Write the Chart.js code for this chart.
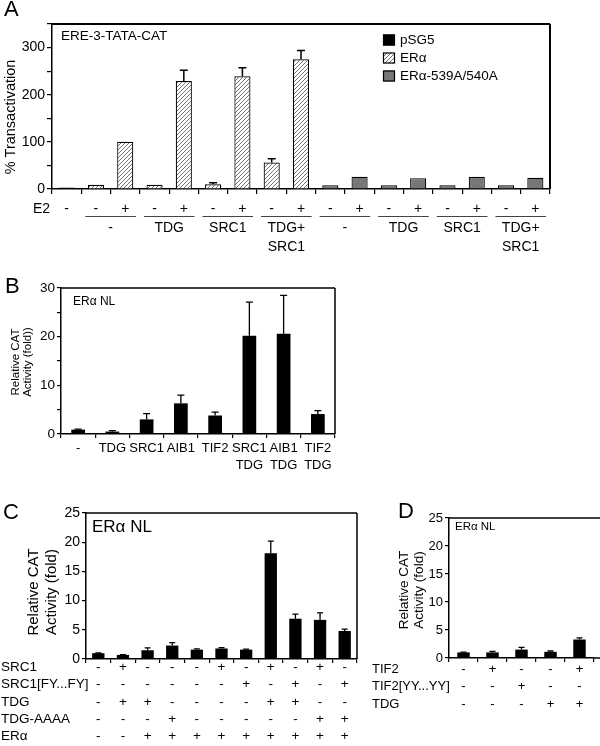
<!DOCTYPE html>
<html>
<head>
<meta charset="utf-8">
<script src="https://cdn.jsdelivr.net/npm/chart.js@4.4.1/dist/chart.umd.min.js"></script>
<style>
  html, body { margin: 0; padding: 0; background: #fff; }
  #page { position: relative; width: 600px; height: 746px; overflow: hidden; }
  canvas { position: absolute; }
</style>
</head>
<body>
<div id="page">
  <canvas id="panelA" width="600" height="262" style="left:0;top:0"></canvas>
  <canvas id="panelB" width="345" height="210" style="left:0;top:262px"></canvas>
  <canvas id="panelC" width="368" height="274" style="left:0;top:472px"></canvas>
  <canvas id="panelD" width="232" height="274" style="left:368px;top:472px"></canvas>
</div>
<script>
const FONT = "'Liberation Sans', Arial, Helvetica, sans-serif";
Chart.defaults.font.family = FONT;
Chart.defaults.color = '#000';

// panel A: ERE-3-TATA-CAT, % transactivation
const aE2 = ['-', '-', '+', '-', '+', '-', '+', '-', '+', '-', '+', '-', '+', '-', '+', '-', '+'];
const aGroups = [['-'], ['TDG'], ['SRC1'], ['TDG+', 'SRC1'], ['-'], ['TDG'], ['SRC1'], ['TDG+', 'SRC1']];
const aSeries = ['pSG5', 'ERα', 'ERα-539A/540A'];
const aPSG5 = [3];
const aERa = [9, 100, 9, 229, 10, 239, 56, 275];
const aERaErr = [0, 0, 0, 23, 3, 18, 8, 19];
const aMut = [8, 26, 8, 23, 8, 26, 8, 24];

// panel B: relative CAT activity, ERα NL
const bLabels = [['-'], ['TDG'], ['SRC1'], ['AIB1'], ['TIF2'], ['SRC1', 'TDG'], ['AIB1', 'TDG'], ['TIF2', 'TDG']];
const bValues = [0.9, 0.5, 3.0, 6.3, 3.8, 20.2, 20.6, 4.1];
const bErrors = [0.1, 0.2, 1.2, 1.7, 0.7, 6.9, 7.9, 0.7];

// panel C
const cRows = ['SRC1', 'SRC1[FY...FY]', 'TDG', 'TDG-AAAA', 'ERα'];
const cSRC1 = ['-', '+', '-', '-', '-', '+', '-', '+', '-', '+', '-'];
const cSRC1FY = ['-', '-', '-', '-', '-', '-', '+', '-', '+', '-', '+'];
const cTDG = ['-', '+', '+', '-', '-', '-', '-', '+', '+', '-', '-'];
const cTDGAAAA = ['-', '-', '-', '+', '-', '-', '-', '-', '-', '+', '+'];
const cERa = ['-', '-', '+', '+', '+', '+', '+', '+', '+', '+', '+'];
const cValues = [1.0, 0.7, 1.5, 2.3, 1.6, 1.8, 1.6, 18.1, 6.9, 6.7, 4.8];
const cErrors = [0.05, 0.05, 0.4, 0.5, 0.15, 0.15, 0.1, 2.1, 0.8, 1.2, 0.3];

// panel D
const dRows = ['TIF2', 'TIF2[YY...YY]', 'TDG'];
const dTIF2 = ['-', '+', '-', '-', '+'];
const dTIF2YY = ['-', '-', '+', '-', '-'];
const dTDG = ['-', '-', '-', '+', '+'];
const dValues = [1.0, 1.0, 1.5, 1.1, 3.3];
const dErrors = [0.05, 0.2, 0.4, 0.15, 0.3];

const nulls = n => Array(n).fill(null);

function put(ctx, str, x, y, size, align) {
  ctx.save();
  ctx.font = size + 'px ' + FONT;
  ctx.fillStyle = '#000';
  ctx.textAlign = align || 'left';
  ctx.textBaseline = 'middle';
  ctx.fillText(str, x, y);
  ctx.restore();
}

function putV(ctx, lines, xs, y, size) {
  lines.forEach((t, i) => {
    ctx.save();
    ctx.translate(xs[i], y);
    ctx.rotate(-Math.PI / 2);
    put(ctx, t, 0, 0, size, 'center');
    ctx.restore();
  });
}

function hatch() {
  const c = document.createElement('canvas');
  c.width = 4; c.height = 4;
  const g = c.getContext('2d');
  g.fillStyle = '#fff';
  g.fillRect(0, 0, 4, 4);
  g.strokeStyle = '#707070';
  g.lineWidth = 1;
  g.beginPath();
  g.moveTo(0, 4); g.lineTo(4, 0);
  g.moveTo(-1, 1); g.lineTo(1, -1);
  g.moveTo(3, 5); g.lineTo(5, 3);
  g.stroke();
  return g.createPattern(c, 'repeat');
}

const errorBars = {
  id: 'errorBars',
  afterDatasetsDraw(chart, args, o) {
    const ctx = chart.ctx, y = chart.scales.y;
    chart.data.datasets.forEach((ds, i) => {
      if (!ds.errors) return;
      chart.getDatasetMeta(i).data.forEach((bar, j) => {
        const v = ds.data[j], e = ds.errors[j];
        if (v == null || !e) return;
        const top = y.getPixelForValue(v + e);
        ctx.save();
        ctx.strokeStyle = '#000';
        ctx.lineWidth = o.width;
        ctx.beginPath();
        ctx.moveTo(bar.x, bar.y);
        ctx.lineTo(bar.x, top);
        ctx.moveTo(bar.x - o.cap / 2, top);
        ctx.lineTo(bar.x + o.cap / 2, top);
        ctx.stroke();
        ctx.restore();
      });
    });
  }
};

const frame = {
  id: 'frame',
  afterDraw(chart, args, o) {
    const ctx = chart.ctx, a = chart.chartArea;
    const r = o.extend ? chart.width : a.right;
    ctx.save();
    ctx.strokeStyle = '#000';
    ctx.lineWidth = o.width;
    ctx.beginPath();
    ctx.moveTo(a.left, a.top);
    ctx.lineTo(r, a.top);
    if (o.right) {
      ctx.moveTo(a.right, a.top);
      ctx.lineTo(a.right, a.bottom);
    }
    if (o.extend) {
      ctx.moveTo(a.right, a.bottom);
      ctx.lineTo(chart.width, a.bottom);
    }
    ctx.stroke();
    ctx.restore();
  }
};

function yAxis(max, step, every, size, w, tl) {
  return {
    min: 0, max: max,
    afterFit: s => { s.width = w; },
    ticks: { stepSize: step, autoSkip: false, padding: 2, font: { size: size }, color: '#000',
      callback: v => (v % every === 0 ? v : '') },
    grid: { drawOnChartArea: false, tickLength: tl, color: '#000', lineWidth: 1.2 },
    border: { color: '#000', width: 1.5 }
  };
}

function xAxis(h, font, pad, tl) {
  return {
    offset: true,
    afterFit: s => { s.height = h; },
    ticks: { autoSkip: false, maxRotation: 0, padding: pad, font: font, color: '#000' },
    grid: { offset: true, drawOnChartArea: false, tickLength: tl, color: '#000', lineWidth: 1.2 },
    border: { color: '#000', width: 1.5 }
  };
}

function base(pad, extra) {
  return Object.assign({
    responsive: false,
    animation: false,
    events: [],
    layout: { padding: pad },
  }, extra);
}

// ---- A
new Chart(document.getElementById('panelA'), {
  type: 'bar',
  data: {
    labels: aE2,
    datasets: [
      { label: aSeries[0], data: aPSG5.concat(nulls(16)), backgroundColor: '#000', borderColor: '#000', borderWidth: 1 },
      { label: aSeries[1], data: nulls(1).concat(aERa, nulls(8)), errors: nulls(1).concat(aERaErr, nulls(8)),
        backgroundColor: hatch(), borderColor: '#000', borderWidth: 1.2 },
      { label: aSeries[2], data: nulls(9).concat(aMut), backgroundColor: '#777', borderColor: '#000', borderWidth: 1.2 }
    ]
  },
  options: base({ left: 0, top: 24, right: 50, bottom: 0 }, {
    datasets: { bar: { grouped: false, categoryPercentage: 1, barPercentage: 0.55 } },
    plugins: {
      legend: { display: false }, tooltip: { enabled: false },
      errorBars: { cap: 8, width: 1.5 },
      frame: { width: 2, right: true }
    },
    scales: { x: xAxis(73, { size: 14 }, 6.6, 5), y: yAxis(350, 50, 100, 14, 52, 5) }
  }),
  plugins: [errorBars, frame, {
    id: 'notesA',
    afterDraw(chart) {
      const ctx = chart.ctx, x = chart.scales.x;
      put(ctx, 'A', 4, 10, 22);
      put(ctx, 'ERE-3-TATA-CAT', 61, 36, 13.5);
      putV(ctx, ['% Transactivation'], [11], 117, 14.5);
      put(ctx, 'E2', 33, 209, 14);
      const half = (x.getPixelForValue(1) - x.getPixelForValue(0)) / 2;
      aGroups.forEach((g, k) => {
        const l = x.getPixelForValue(1 + 2 * k) - half + 4;
        const r = x.getPixelForValue(2 + 2 * k) + half - 4;
        ctx.save();
        ctx.strokeStyle = '#444';
        ctx.lineWidth = 1;
        ctx.beginPath();
        ctx.moveTo(l, 216.5);
        ctx.lineTo(r, 216.5);
        ctx.stroke();
        ctx.restore();
        g.forEach((t, j) => put(ctx, t, (l + r) / 2, 228.5 + j * 19, 14, 'center'));
      });
      chart.data.datasets.forEach((ds, i) => {
        const y = 40 + i * 18;
        ctx.save();
        ctx.fillStyle = ds.backgroundColor;
        ctx.fillRect(383, y - 5.5, 12, 11);
        ctx.strokeStyle = '#000';
        ctx.lineWidth = 1.2;
        ctx.strokeRect(383.5, y - 5, 11, 10);
        ctx.restore();
        put(ctx, ds.label, 400, y, 13.5);
      });
    }
  }]
});

// ---- B
new Chart(document.getElementById('panelB'), {
  type: 'bar',
  data: { labels: bLabels, datasets: [{ data: bValues, errors: bErrors, backgroundColor: '#000', borderWidth: 0 }] },
  options: base({ left: 0, top: 26, right: 10, bottom: 0 }, {
    datasets: { bar: { categoryPercentage: 1, barPercentage: 0.4 } },
    plugins: {
      legend: { display: false }, tooltip: { enabled: false },
      errorBars: { cap: 7, width: 1.3 },
      frame: { width: 1.5, right: true }
    },
    scales: { x: xAxis(38, { size: 13, lineHeight: 1.38 }, 1, 4), y: yAxis(30, 5, 10, 13.5, 61, 4) }
  }),
  plugins: [errorBars, frame, {
    id: 'notesB',
    afterDraw(chart) {
      const ctx = chart.ctx;
      put(ctx, 'B', 5, 25, 22);
      put(ctx, 'ERα NL', 73, 40, 12);
      putV(ctx, ['Relative CAT', 'Activity (fold))'], [16, 27.5], 100, 11.5);
    }
  }]
});

// ---- C
new Chart(document.getElementById('panelC'), {
  type: 'bar',
  data: {
    labels: cSRC1.map((s, i) => [s, cSRC1FY[i], cTDG[i], cTDGAAAA[i], cERa[i]]),
    datasets: [{ data: cValues, errors: cErrors, backgroundColor: '#000', borderWidth: 0 }]
  },
  options: base({ left: 0, top: 41, right: 11, bottom: 0 }, {
    datasets: { bar: { categoryPercentage: 1, barPercentage: 0.5 } },
    plugins: {
      legend: { display: false }, tooltip: { enabled: false },
      errorBars: { cap: 6, width: 1.3 },
      frame: { width: 1.5, right: true }
    },
    scales: { x: xAxis(87, { size: 13.5, lineHeight: 17.4 / 13.5 }, -4.7, 4), y: yAxis(25, 5, 5, 14, 86, 4) }
  }),
  plugins: [errorBars, frame, {
    id: 'notesC',
    afterDraw(chart) {
      const ctx = chart.ctx, a = chart.chartArea;
      put(ctx, 'C', 3, 41, 22);
      put(ctx, 'ERα NL', 92, 55, 17);
      putV(ctx, ['Relative CAT', 'Activity (fold)'], [34, 52], 120, 15);
      cRows.forEach((t, i) => put(ctx, t, 1, a.bottom + 8 + i * 17.4, 13.5));
    }
  }]
});

// ---- D
new Chart(document.getElementById('panelD'), {
  type: 'bar',
  data: {
    labels: dTIF2.map((s, i) => [s, dTIF2YY[i], dTDG[i]]),
    datasets: [{ data: dValues, errors: dErrors, backgroundColor: '#000', borderWidth: 0 }]
  },
  options: base({ left: 0, top: 46, right: 6, bottom: 0 }, {
    datasets: { bar: { categoryPercentage: 1, barPercentage: 0.43 } },
    plugins: {
      legend: { display: false }, tooltip: { enabled: false },
      errorBars: { cap: 6, width: 1.3 },
      frame: { width: 1.5, right: false, extend: true }
    },
    scales: { x: xAxis(88, { size: 13, lineHeight: 17.5 / 13 }, -1.75, 4), y: yAxis(25, 5, 5, 13, 81, 4) }
  }),
  plugins: [errorBars, frame, {
    id: 'notesD',
    afterDraw(chart) {
      const ctx = chart.ctx, a = chart.chartArea;
      put(ctx, 'D', 30, 40, 22);
      put(ctx, 'ERα NL', 87, 55, 11.5);
      putV(ctx, ['Relative CAT', 'Activity (fold)'], [36, 51], 118, 13.5);
      dRows.forEach((t, i) => put(ctx, t, 4, a.bottom + 11 + i * 17.5, 13));
    }
  }]
});
</script>
</body>
</html>
